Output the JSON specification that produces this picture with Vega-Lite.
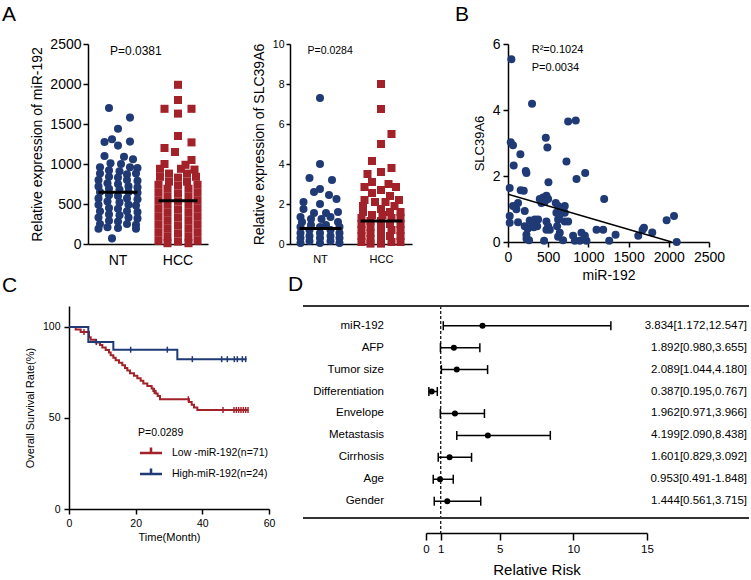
{
"$schema":"https://vega.github.io/schema/vega-lite/v6.json",
"background":"white",
"padding":{"left":2,"top":4,"right":0,"bottom":0},
"spacing":-8,
"resolve":{"scale":{"color":"independent","shape":"independent"},"legend":{"color":"independent","shape":"independent"}},
"config":{
 "font":"Liberation Sans",
 "view":{"stroke":null},
 "axis":{"domainColor":"#000","tickColor":"#000","labelColor":"#000","titleColor":"#000","grid":false,"titleFontWeight":"normal","domainWidth":1.5,"tickWidth":1.5,"labelFlush":false,"labelOverlap":false,"labelBound":false},
 "title":{"fontWeight":"normal","color":"#000","fontSize":21,"anchor":"start","baseline":"top","frame":"group"},
 "legend":{"labelColor":"#000"}
},
"datasets":{
 "a1":[
  {"g":"NT","v":1700,"j":-0.3},{"g":"NT","v":1580,"j":0.4},{"g":"NT","v":1440,"j":0},{"g":"NT","v":1310,"j":-0.2},{"g":"NT","v":1275,"j":-0.45},{"g":"NT","v":1280,"j":0.4},{"g":"NT","v":1230,"j":0},{"g":"NT","v":1100,"j":-0.45},{"g":"NT","v":1090,"j":0.2},{"g":"NT","v":1060,"j":0.5},{"g":"NT","v":1010,"j":-0.25},{"g":"NT","v":1000,"j":0.1},{"g":"NT","v":960,"j":-0.6},{"g":"NT","v":960,"j":0.4},{"g":"NT","v":950,"j":0.65},{"g":"NT","v":920,"j":-0.3},{"g":"NT","v":910,"j":0.05},{"g":"NT","v":880,"j":-0.6},{"g":"NT","v":870,"j":0.3},{"g":"NT","v":880,"j":0.6},{"g":"NT","v":840,"j":-0.3},{"g":"NT","v":830,"j":0},{"g":"NT","v":800,"j":-0.65},{"g":"NT","v":800,"j":0.3},{"g":"NT","v":790,"j":0.65},{"g":"NT","v":760,"j":-0.35},{"g":"NT","v":750,"j":0},{"g":"NT","v":720,"j":-0.65},{"g":"NT","v":720,"j":0.35},{"g":"NT","v":710,"j":0.65},{"g":"NT","v":690,"j":-0.3},{"g":"NT","v":680,"j":0.05},{"g":"NT","v":650,"j":-0.6},{"g":"NT","v":650,"j":0.35},{"g":"NT","v":640,"j":0.65},{"g":"NT","v":610,"j":-0.3},{"g":"NT","v":600,"j":0},{"g":"NT","v":570,"j":-0.65},{"g":"NT","v":570,"j":0.3},{"g":"NT","v":560,"j":0.65},{"g":"NT","v":530,"j":-0.35},{"g":"NT","v":520,"j":0.05},{"g":"NT","v":490,"j":-0.65},{"g":"NT","v":490,"j":0.35},{"g":"NT","v":480,"j":0.6},{"g":"NT","v":450,"j":-0.3},{"g":"NT","v":440,"j":0},{"g":"NT","v":410,"j":-0.6},{"g":"NT","v":410,"j":0.3},{"g":"NT","v":400,"j":0.65},{"g":"NT","v":370,"j":-0.3},{"g":"NT","v":360,"j":0.05},{"g":"NT","v":330,"j":-0.65},{"g":"NT","v":330,"j":0.35},{"g":"NT","v":320,"j":0.65},{"g":"NT","v":290,"j":-0.3},{"g":"NT","v":280,"j":0},{"g":"NT","v":250,"j":-0.6},{"g":"NT","v":250,"j":0.3},{"g":"NT","v":240,"j":0.6},{"g":"NT","v":210,"j":-0.35},{"g":"NT","v":200,"j":0},{"g":"NT","v":190,"j":-0.65},{"g":"NT","v":190,"j":0.6},{"g":"NT","v":70,"j":-0.2},
  {"g":"HCC","v":1990,"j":0},{"g":"HCC","v":1800,"j":0},{"g":"HCC","v":1690,"j":-0.45},{"g":"HCC","v":1690,"j":0.45},{"g":"HCC","v":1630,"j":0},{"g":"HCC","v":1350,"j":0},{"g":"HCC","v":1270,"j":0.45},{"g":"HCC","v":1200,"j":-0.45},{"g":"HCC","v":1150,"j":-0.1},{"g":"HCC","v":1050,"j":0.45},{"g":"HCC","v":1000,"j":-0.45},{"g":"HCC","v":990,"j":0.25},{"g":"HCC","v":940,"j":-0.6},{"g":"HCC","v":940,"j":0.1},{"g":"HCC","v":930,"j":0.55},{"g":"HCC","v":880,"j":-0.3},{"g":"HCC","v":880,"j":0.3},{"g":"HCC","v":840,"j":-0.6},{"g":"HCC","v":830,"j":0},{"g":"HCC","v":840,"j":0.6},{"g":"HCC","v":780,"j":-0.3},{"g":"HCC","v":780,"j":0.3},{"g":"HCC","v":740,"j":-0.65},{"g":"HCC","v":730,"j":0},{"g":"HCC","v":740,"j":0.65},{"g":"HCC","v":690,"j":-0.35},{"g":"HCC","v":690,"j":0.35},{"g":"HCC","v":640,"j":-0.65},{"g":"HCC","v":630,"j":0},{"g":"HCC","v":640,"j":0.65},{"g":"HCC","v":590,"j":-0.35},{"g":"HCC","v":590,"j":0.35},{"g":"HCC","v":540,"j":-0.65},{"g":"HCC","v":530,"j":0},{"g":"HCC","v":540,"j":0.65},{"g":"HCC","v":490,"j":-0.35},{"g":"HCC","v":490,"j":0.35},{"g":"HCC","v":440,"j":-0.65},{"g":"HCC","v":430,"j":0},{"g":"HCC","v":440,"j":0.65},{"g":"HCC","v":390,"j":-0.35},{"g":"HCC","v":390,"j":0.35},{"g":"HCC","v":340,"j":-0.65},{"g":"HCC","v":330,"j":0},{"g":"HCC","v":340,"j":0.65},{"g":"HCC","v":290,"j":-0.35},{"g":"HCC","v":290,"j":0.35},{"g":"HCC","v":240,"j":-0.65},{"g":"HCC","v":230,"j":0},{"g":"HCC","v":240,"j":0.65},{"g":"HCC","v":190,"j":-0.35},{"g":"HCC","v":190,"j":0.35},{"g":"HCC","v":140,"j":-0.65},{"g":"HCC","v":130,"j":0},{"g":"HCC","v":140,"j":0.65},{"g":"HCC","v":90,"j":-0.35},{"g":"HCC","v":90,"j":0.35},{"g":"HCC","v":40,"j":-0.65},{"g":"HCC","v":30,"j":0},{"g":"HCC","v":40,"j":0.65},{"g":"HCC","v":10,"j":-0.35},{"g":"HCC","v":10,"j":0.35}
 ],
 "a2":[
  {"g":"NT","v":7.3,"j":0},{"g":"NT","v":4.0,"j":0},{"g":"NT","v":3.3,"j":-0.35},{"g":"NT","v":3.2,"j":0.4},{"g":"NT","v":2.75,"j":0},{"g":"NT","v":2.6,"j":-0.2},{"g":"NT","v":2.45,"j":0.3},{"g":"NT","v":2.25,"j":0.55},{"g":"NT","v":2.1,"j":-0.55},{"g":"NT","v":2.0,"j":0},{"g":"NT","v":1.75,"j":-0.55},{"g":"NT","v":1.6,"j":0.6},{"g":"NT","v":1.55,"j":-0.2},{"g":"NT","v":1.55,"j":0.2},{"g":"NT","v":1.35,"j":-0.65},{"g":"NT","v":1.35,"j":0.35},{"g":"NT","v":1.25,"j":-0.3},{"g":"NT","v":1.25,"j":0.05},{"g":"NT","v":1.1,"j":-0.6},{"g":"NT","v":1.1,"j":0.6},{"g":"NT","v":0.95,"j":-0.3},{"g":"NT","v":0.95,"j":0.2},{"g":"NT","v":0.85,"j":-0.65},{"g":"NT","v":0.85,"j":0},{"g":"NT","v":0.85,"j":0.65},{"g":"NT","v":0.7,"j":-0.35},{"g":"NT","v":0.7,"j":0.35},{"g":"NT","v":0.55,"j":-0.65},{"g":"NT","v":0.55,"j":0},{"g":"NT","v":0.55,"j":0.65},{"g":"NT","v":0.4,"j":-0.35},{"g":"NT","v":0.4,"j":0.35},{"g":"NT","v":0.3,"j":-0.65},{"g":"NT","v":0.3,"j":0},{"g":"NT","v":0.3,"j":0.65},{"g":"NT","v":0.15,"j":-0.35},{"g":"NT","v":0.15,"j":0.35},{"g":"NT","v":0.05,"j":-0.65},{"g":"NT","v":0.05,"j":0},{"g":"NT","v":0.05,"j":0.65},
  {"g":"HCC","v":8.0,"j":0},{"g":"HCC","v":6.75,"j":0},{"g":"HCC","v":5.5,"j":0.35},{"g":"HCC","v":5.0,"j":0},{"g":"HCC","v":4.15,"j":-0.3},{"g":"HCC","v":3.8,"j":0.35},{"g":"HCC","v":3.6,"j":0},{"g":"HCC","v":3.5,"j":-0.45},{"g":"HCC","v":3.1,"j":-0.3},{"g":"HCC","v":3.0,"j":0.25},{"g":"HCC","v":2.85,"j":-0.55},{"g":"HCC","v":2.85,"j":0.5},{"g":"HCC","v":2.7,"j":0},{"g":"HCC","v":2.55,"j":-0.3},{"g":"HCC","v":2.4,"j":0.3},{"g":"HCC","v":2.2,"j":-0.55},{"g":"HCC","v":2.2,"j":0.6},{"g":"HCC","v":2.1,"j":-0.2},{"g":"HCC","v":2.1,"j":0.15},{"g":"HCC","v":1.9,"j":-0.6},{"g":"HCC","v":1.9,"j":0.45},{"g":"HCC","v":1.75,"j":0},{"g":"HCC","v":1.6,"j":-0.6},{"g":"HCC","v":1.6,"j":0.3},{"g":"HCC","v":1.6,"j":0.65},{"g":"HCC","v":1.45,"j":-0.3},{"g":"HCC","v":1.45,"j":0.05},{"g":"HCC","v":1.3,"j":-0.65},{"g":"HCC","v":1.3,"j":0.35},{"g":"HCC","v":1.3,"j":0.65},{"g":"HCC","v":1.15,"j":-0.35},{"g":"HCC","v":1.15,"j":0},{"g":"HCC","v":1.0,"j":-0.65},{"g":"HCC","v":1.0,"j":0.3},{"g":"HCC","v":1.0,"j":0.65},{"g":"HCC","v":0.85,"j":-0.35},{"g":"HCC","v":0.85,"j":0},{"g":"HCC","v":0.7,"j":-0.65},{"g":"HCC","v":0.7,"j":0.35},{"g":"HCC","v":0.7,"j":0.65},{"g":"HCC","v":0.55,"j":-0.35},{"g":"HCC","v":0.55,"j":0},{"g":"HCC","v":0.4,"j":-0.65},{"g":"HCC","v":0.4,"j":0.3},{"g":"HCC","v":0.4,"j":0.65},{"g":"HCC","v":0.25,"j":-0.35},{"g":"HCC","v":0.25,"j":0},{"g":"HCC","v":0.1,"j":-0.65},{"g":"HCC","v":0.1,"j":0.35},{"g":"HCC","v":0.1,"j":0.65},{"g":"HCC","v":0.02,"j":-0.35},{"g":"HCC","v":0.02,"j":0}
 ],
 "b":[
  {"m":42,"s":5.54},{"m":299,"s":4.19},{"m":748,"s":3.65},{"m":843,"s":3.68},{"m":470,"s":3.16},{"m":490,"s":2.86},{"m":34,"s":3.02},{"m":62,"s":2.93},{"m":154,"s":2.66},{"m":71,"s":2.32},{"m":727,"s":2.44},{"m":221,"s":2.15},{"m":229,"s":2.09},{"m":960,"s":2.09},{"m":852,"s":1.91},{"m":503,"s":1.81},{"m":21,"s":1.64},{"m":158,"s":1.57},{"m":196,"s":1.55},{"m":1196,"s":1.30},{"m":395,"s":1.30},{"m":437,"s":1.35},{"m":478,"s":1.40},{"m":457,"s":1.22},{"m":416,"s":1.18},{"m":499,"s":1.30},{"m":594,"s":1.18},{"m":623,"s":1.09},{"m":706,"s":1.09},{"m":125,"s":1.18},{"m":104,"s":0.99},{"m":208,"s":0.94},{"m":21,"s":0.79},{"m":21,"s":0.58},{"m":125,"s":0.60},{"m":208,"s":0.48},{"m":229,"s":0.22},{"m":262,"s":0.05},{"m":270,"s":0.65},{"m":333,"s":0.68},{"m":363,"s":0.48},{"m":374,"s":0.68},{"m":300,"s":0.55},{"m":478,"s":0.62},{"m":499,"s":0.48},{"m":520,"s":0.37},{"m":449,"s":0.04},{"m":602,"s":0.89},{"m":623,"s":0.68},{"m":611,"s":0.48},{"m":644,"s":0.28},{"m":623,"s":0.16},{"m":685,"s":0.05},{"m":706,"s":0.89},{"m":706,"s":0.62},{"m":748,"s":0.62},{"m":810,"s":0.19},{"m":831,"s":0.04},{"m":893,"s":0.04},{"m":914,"s":0.28},{"m":956,"s":0.19},{"m":976,"s":0.04},{"m":1101,"s":0.37},{"m":1184,"s":0.37},{"m":1338,"s":0.22},{"m":1259,"s":0.04},{"m":1620,"s":0.19},{"m":1674,"s":0.37},{"m":1691,"s":0.43},{"m":1794,"s":0.29},{"m":1973,"s":0.66},{"m":2065,"s":0.79},{"m":2098,"s":0.0},{"m":62,"s":1.09},{"m":478,"s":0.37},{"m":640,"s":0.80},{"m":660,"s":1.00},{"m":245,"s":0.40},{"m":320,"s":0.45},{"m":230,"s":0.10}
 ],
 "km":[
  {"grp":"Low -miR-192(n=71)","t":0,"s":100},{"grp":"Low -miR-192(n=71)","t":2,"s":98.6},{"grp":"Low -miR-192(n=71)","t":3.5,"s":97.2},{"grp":"Low -miR-192(n=71)","t":6,"s":94.4},{"grp":"Low -miR-192(n=71)","t":6.5,"s":93.0},{"grp":"Low -miR-192(n=71)","t":8,"s":91.5},{"grp":"Low -miR-192(n=71)","t":9.3,"s":90.1},{"grp":"Low -miR-192(n=71)","t":10,"s":88.7},{"grp":"Low -miR-192(n=71)","t":11,"s":87.3},{"grp":"Low -miR-192(n=71)","t":12,"s":85.9},{"grp":"Low -miR-192(n=71)","t":12.5,"s":84.5},{"grp":"Low -miR-192(n=71)","t":13.3,"s":83.1},{"grp":"Low -miR-192(n=71)","t":14,"s":81.7},{"grp":"Low -miR-192(n=71)","t":15,"s":80.3},{"grp":"Low -miR-192(n=71)","t":16,"s":78.9},{"grp":"Low -miR-192(n=71)","t":16.8,"s":77.5},{"grp":"Low -miR-192(n=71)","t":17.5,"s":76.1},{"grp":"Low -miR-192(n=71)","t":18.3,"s":74.6},{"grp":"Low -miR-192(n=71)","t":19.5,"s":73.2},{"grp":"Low -miR-192(n=71)","t":20.5,"s":71.8},{"grp":"Low -miR-192(n=71)","t":21.5,"s":70.4},{"grp":"Low -miR-192(n=71)","t":22.3,"s":69.0},{"grp":"Low -miR-192(n=71)","t":23.5,"s":67.6},{"grp":"Low -miR-192(n=71)","t":24.8,"s":66.2},{"grp":"Low -miR-192(n=71)","t":25.3,"s":64.8},{"grp":"Low -miR-192(n=71)","t":26,"s":63.4},{"grp":"Low -miR-192(n=71)","t":26.6,"s":62.0},{"grp":"Low -miR-192(n=71)","t":27.3,"s":60.3},{"grp":"Low -miR-192(n=71)","t":36,"s":58.8},{"grp":"Low -miR-192(n=71)","t":36.8,"s":57.3},{"grp":"Low -miR-192(n=71)","t":37.5,"s":55.8},{"grp":"Low -miR-192(n=71)","t":38.5,"s":54.4},{"grp":"Low -miR-192(n=71)","t":53.8,"s":54.4},
  {"grp":"High-miR-192(n=24)","t":0,"s":100},{"grp":"High-miR-192(n=24)","t":5.8,"s":91.7},{"grp":"High-miR-192(n=24)","t":13.3,"s":87.5},{"grp":"High-miR-192(n=24)","t":32.5,"s":82.3},{"grp":"High-miR-192(n=24)","t":53.3,"s":82.3}
 ],
 "cens":[
  {"grp":"Low","t":4.5,"s":97.2},{"grp":"Low","t":25.6,"s":64.8},{"grp":"Low","t":35.8,"s":60.3},{"grp":"Low","t":46.2,"s":54.4},{"grp":"Low","t":49.5,"s":54.4},{"grp":"Low","t":50.2,"s":54.4},{"grp":"Low","t":50.9,"s":54.4},{"grp":"Low","t":51.6,"s":54.4},{"grp":"Low","t":52.3,"s":54.4},{"grp":"Low","t":53,"s":54.4},{"grp":"Low","t":53.7,"s":54.4},
  {"grp":"High","t":8.2,"s":91.7},{"grp":"High","t":18.5,"s":87.5},{"grp":"High","t":29.5,"s":87.5},{"grp":"High","t":37,"s":82.3},{"grp":"High","t":45.8,"s":82.3},{"grp":"High","t":47.5,"s":82.3},{"grp":"High","t":49.6,"s":82.3},{"grp":"High","t":50.5,"s":82.3},{"grp":"High","t":52,"s":82.3},{"grp":"High","t":53,"s":82.3}
 ],
 "forest":[
  {"f":"miR-192","r":1,"hr":3.834,"lo":1.172,"hi":12.547,"ci":"3.834[1.172,12.547]"},
  {"f":"AFP","r":2,"hr":1.892,"lo":0.980,"hi":3.655,"ci":"1.892[0.980,3.655]"},
  {"f":"Tumor size","r":3,"hr":2.089,"lo":1.044,"hi":4.180,"ci":"2.089[1.044,4.180]"},
  {"f":"Differentiation","r":4,"hr":0.387,"lo":0.195,"hi":0.767,"ci":"0.387[0.195,0.767]"},
  {"f":"Envelope","r":5,"hr":1.962,"lo":0.971,"hi":3.966,"ci":"1.962[0.971,3.966]"},
  {"f":"Metastasis","r":6,"hr":4.199,"lo":2.090,"hi":8.438,"ci":"4.199[2.090,8.438]"},
  {"f":"Cirrhosis","r":7,"hr":1.601,"lo":0.829,"hi":3.092,"ci":"1.601[0.829,3.092]"},
  {"f":"Age","r":8,"hr":0.953,"lo":0.491,"hi":1.848,"ci":"0.953[0.491-1.848]"},
  {"f":"Gender","r":9,"hr":1.444,"lo":0.561,"hi":3.715,"ci":"1.444[0.561,3.715]"}
 ]
},
"vconcat":[
 {"bounds":"flush","spacing":0,
  "resolve":{"scale":{"color":"independent","shape":"independent"},"legend":{"color":"independent","shape":"independent"}},
  "hconcat":[
 {"width":19,"height":1,"data":{"values":[]},"mark":"point"},
 {"width":120,"height":200,
  "title":{"text":"A","dx":-86,"offset":12},
  "layer":[
   {"data":{"name":"a1"},
    "mark":{"type":"point","filled":true,"opacity":1,"size":65},
    "encoding":{
     "x":{"field":"g","type":"nominal","scale":{"domain":["NT","HCC"],"paddingInner":0,"paddingOuter":0},"axis":{"title":null,"labelAngle":0,"ticks":false,"labelFontSize":14,"labelPadding":9,"labelOverlap":false,"labelBound":false}},
     "xOffset":{"field":"j","type":"quantitative","scale":{"domain":[-1,1]}},
     "y":{"field":"v","type":"quantitative","scale":{"domain":[0,2500],"nice":false},"axis":{"values":[0,500,1000,1500,2000,2500],"tickCount":10,"format":"d","labelOverlap":false,"labelBound":false,"title":"Relative expression of miR-192","titleFontSize":14,"labelFontSize":14,"tickSize":5,"labelPadding":2,"titlePadding":5}},
     "color":{"field":"g","type":"nominal","scale":{"domain":["NT","HCC"],"range":["#1f3a75","#a3222a"]},"legend":null},
     "shape":{"field":"g","type":"nominal","scale":{"domain":["NT","HCC"],"range":["circle","square"]},"legend":null}
    }},
   {"data":{"values":[{"g":"NT","v":646},{"g":"HCC","v":541}]},
    "mark":{"type":"tick","color":"#000","thickness":3,"size":39,"opacity":1},
    "encoding":{"x":{"field":"g","type":"nominal"},"y":{"field":"v","type":"quantitative"}}},
   {"data":{"values":[{"label":"P=0.0381"}]},
    "mark":{"type":"text","align":"left","baseline":"middle","dx":-8,"fontSize":12,"color":"#000"},
    "encoding":{"x":{"datum":"NT"},"y":{"datum":2412},"text":{"field":"label"}}}
  ]},
 {"width":82,"height":1,"data":{"values":[]},"mark":"point"},
 {"width":122,"height":200,
  "layer":[
   {"data":{"name":"a2"},
    "mark":{"type":"point","filled":true,"opacity":1,"size":65},
    "encoding":{
     "x":{"field":"g","type":"nominal","scale":{"domain":["NT","HCC"],"paddingInner":0,"paddingOuter":0},"axis":{"title":null,"labelAngle":0,"ticks":false,"labelFontSize":11,"labelPadding":9,"labelOverlap":false,"labelBound":false}},
     "xOffset":{"field":"j","type":"quantitative","scale":{"domain":[-1,1]}},
     "y":{"field":"v","type":"quantitative","scale":{"domain":[0,10],"nice":false},"axis":{"values":[0,2,4,6,8,10],"tickCount":10,"format":"d","labelOverlap":false,"labelBound":false,"title":"Relative expression of SLC39A6","titleFontSize":14,"labelFontSize":10.5,"tickSize":4,"labelPadding":2,"titlePadding":6}},
     "color":{"field":"g","type":"nominal","scale":{"domain":["NT","HCC"],"range":["#1f3a75","#a3222a"]},"legend":null},
     "shape":{"field":"g","type":"nominal","scale":{"domain":["NT","HCC"],"range":["circle","square"]},"legend":null}
    }},
   {"data":{"values":[{"g":"NT","v":0.77},{"g":"HCC","v":1.15}]},
    "mark":{"type":"tick","color":"#000","thickness":3,"size":42,"opacity":1},
    "encoding":{"x":{"field":"g","type":"nominal"},"y":{"field":"v","type":"quantitative"}}},
   {"data":{"values":[{"label":"P=0.0284"}]},
    "mark":{"type":"text","align":"left","baseline":"middle","dx":-13,"fontSize":10.5,"color":"#000"},
    "encoding":{"x":{"datum":"NT"},"y":{"datum":9.65},"text":{"field":"label"}}}
  ]},
 {"width":96,"height":1,"data":{"values":[]},"mark":"point"},
 {"width":201,"height":198,
  "title":{"text":"B","dx":-53,"offset":12},
  "layer":[
   {"data":{"name":"b"},
    "mark":{"type":"circle","size":64,"color":"#1f3a75","opacity":1},
    "encoding":{
     "x":{"field":"m","type":"quantitative","scale":{"domain":[0,2500],"nice":false},"axis":{"values":[0,500,1000,1500,2000,2500],"tickCount":10,"format":"d","labelOverlap":false,"labelBound":false,"title":"miR-192","titleFontSize":14,"labelFontSize":14,"tickSize":5,"labelPadding":3,"titlePadding":4}},
     "y":{"field":"s","type":"quantitative","scale":{"domain":[0,6],"nice":false},"axis":{"values":[0,2,4,6],"tickCount":10,"format":"d","labelOverlap":false,"labelBound":false,"title":"SLC39A6","titleFontSize":13,"labelFontSize":14,"tickSize":5,"labelPadding":3,"titlePadding":6}}
    }},
   {"data":{"values":[{"m":0,"s":1.45},{"m":2036,"s":0}]},
    "mark":{"type":"line","color":"#000","strokeWidth":1.5},
    "encoding":{"x":{"field":"m","type":"quantitative"},"y":{"field":"s","type":"quantitative"}}},
   {"data":{"values":[{"label":"R²=0.1024"}]},
    "mark":{"type":"text","align":"left","baseline":"middle","fontSize":11,"color":"#000"},
    "encoding":{"x":{"datum":295},"y":{"datum":5.81},"text":{"field":"label"}}},
   {"data":{"values":[{"label":"P=0.0034"}]},
    "mark":{"type":"text","align":"left","baseline":"middle","fontSize":11,"color":"#000"},
    "encoding":{"x":{"datum":295},"y":{"datum":5.26},"text":{"field":"label"}}}
  ]}
 ]},
 {"bounds":"flush","spacing":0,
  "resolve":{"scale":{"color":"independent","shape":"independent"},"legend":{"color":"independent","shape":"independent"}},
  "hconcat":[
 {"width":200,"height":203,
  "title":{"text":"C","dx":-67,"offset":10},
  "layer":[
   {"data":{"name":"km"},
    "mark":{"type":"line","interpolate":"step-after","strokeWidth":2},
    "encoding":{
     "x":{"field":"t","type":"quantitative","scale":{"domain":[0,60],"nice":false},"axis":{"values":[0,20,40,60],"tickCount":10,"format":"d","labelOverlap":false,"labelBound":false,"title":"Time(Month)","titleFontSize":11,"labelFontSize":10.5,"tickSize":5,"labelPadding":4,"titlePadding":3}},
     "y":{"field":"s","type":"quantitative","scale":{"domain":[0,111.5],"nice":false},"axis":{"values":[0,50,100],"tickCount":10,"format":"d","labelOverlap":false,"labelBound":false,"title":"Overall Survival Rate(%)","titleFontSize":11,"labelFontSize":10.5,"tickSize":5,"labelPadding":4,"titlePadding":7}},
     "color":{"field":"grp","type":"nominal","sort":null,"scale":{"domain":["Low -miR-192(n=71)","High-miR-192(n=24)"],"range":["#a3222a","#1f3a75"]},
       "legend":{"title":null,"orient":"none","legendX":75,"legendY":140,"direction":"vertical","symbolType":"M-2,0H2M0,0V-1","symbolSize":121,"symbolStrokeWidth":2.5,"labelFontSize":10.5,"labelOffset":14,"rowPadding":4,"padding":0}}
    }},
   {"data":{"name":"cens"},
    "transform":[{"filter":"datum.grp == 'Low'"}],
    "mark":{"type":"tick","orient":"vertical","size":6,"thickness":1.5,"opacity":1,"color":"#a3222a"},
    "encoding":{"x":{"field":"t","type":"quantitative"},"y":{"field":"s","type":"quantitative"}}},
   {"data":{"name":"cens"},
    "transform":[{"filter":"datum.grp == 'High'"}],
    "mark":{"type":"tick","orient":"vertical","size":6,"thickness":1.5,"opacity":1,"color":"#1f3a75"},
    "encoding":{"x":{"field":"t","type":"quantitative"},"y":{"field":"s","type":"quantitative"}}},
   {"data":{"values":[{"label":"P=0.0289"}]},
    "mark":{"type":"text","align":"left","baseline":"middle","fontSize":10.5,"color":"#000"},
    "encoding":{"x":{"datum":20.7},"y":{"datum":41.9},"text":{"field":"label"}}}
  ]},
 {"width":34,"height":1,"data":{"values":[]},"mark":"point"},
 {"width":446,"height":227,
  "title":{"text":"D","dx":-15,"offset":10},
  "data":{"name":"forest"},
  "layer":[
   {"mark":{"type":"rule","color":"#000","strokeWidth":1.5},
    "encoding":{
     "x":{"field":"lo","type":"quantitative","scale":{"domain":[0,15],"range":[123,344],"nice":false,"zero":false},"axis":{"values":[0,1,5,10,15],"tickCount":10,"format":"d","labelOverlap":false,"labelBound":false,"title":"Relative Risk","titleFontSize":15,"labelFontSize":11.5,"tickSize":7,"labelPadding":3,"titlePadding":8}},
     "x2":{"field":"hi"},
     "y":{"field":"r","type":"quantitative","scale":{"domain":[0.1,10.45],"reverse":true,"nice":false,"zero":false},"axis":null}
    }},
   {"mark":{"type":"tick","orient":"vertical","color":"#000","size":9,"thickness":1.5,"opacity":1},
    "encoding":{"x":{"field":"lo","type":"quantitative"},"y":{"field":"r","type":"quantitative","axis":null}}},
   {"mark":{"type":"tick","orient":"vertical","color":"#000","size":9,"thickness":1.5,"opacity":1},
    "encoding":{"x":{"field":"hi","type":"quantitative"},"y":{"field":"r","type":"quantitative","axis":null}}},
   {"mark":{"type":"circle","color":"#000","size":36,"opacity":1},
    "encoding":{"x":{"field":"hr","type":"quantitative"},"y":{"field":"r","type":"quantitative","axis":null}}},
   {"data":{"values":[{"ref":1}]},
    "mark":{"type":"rule","color":"#000","strokeWidth":1.2,"strokeDash":[3,2]},
    "encoding":{"x":{"field":"ref","type":"quantitative"}}},
   {"data":{"values":[{"edge":0.1},{"edge":9.77}]},
    "mark":{"type":"rule","color":"#333","strokeWidth":2},
    "encoding":{"y":{"field":"edge","type":"quantitative","axis":null}}},
   {"mark":{"type":"text","align":"right","baseline":"middle","fontSize":11.5,"color":"#000"},
    "encoding":{"x":{"datum":-2.85},"y":{"field":"r","type":"quantitative","axis":null},"text":{"field":"f"}}},
   {"mark":{"type":"text","align":"right","baseline":"middle","fontSize":11.5,"color":"#000"},
    "encoding":{"x":{"datum":21.79},"y":{"field":"r","type":"quantitative","axis":null},"text":{"field":"ci"}}}
  ]}
 ]}
]
}
